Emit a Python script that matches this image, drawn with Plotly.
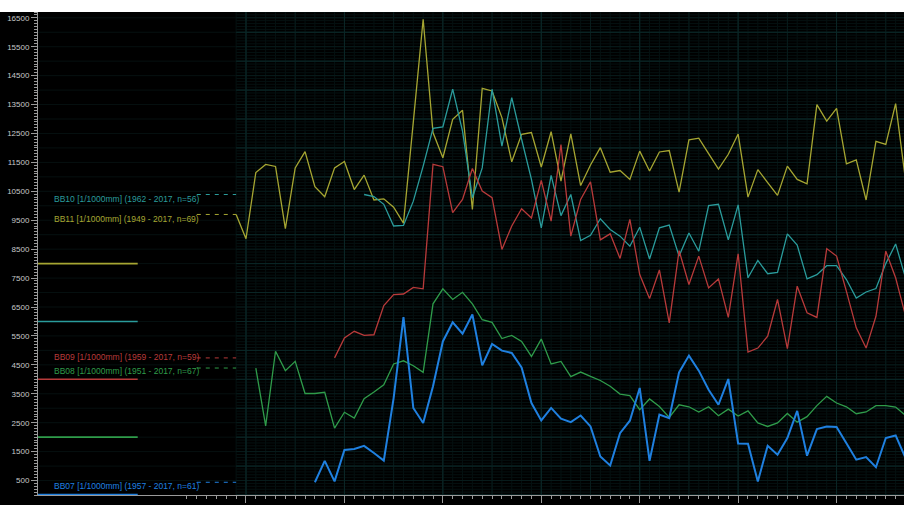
import plotly.graph_objects as go

# ---- ring-width series (1/1000 mm), one value per year ----
bb11_start = 1949
bb11 = [9700, 8860, 11150, 11430, 11360, 9210, 11310, 11870, 10660, 10310,
        11310, 11530, 10560, 11060, 10200, 10240, 9950, 9400, 12900, 16450,
        12530, 11660, 12990, 13300, 9870, 14060, 13970, 13050, 11520, 12470,
        12530, 11340, 12560, 10850, 12490, 10700, 11410, 12010, 11160, 11220,
        10910, 11890, 11200, 11860, 11910, 10470, 12280, 12340, 11800, 11270,
        11780, 12480, 10300, 11250, 10800, 10360, 11370, 10910, 10760, 13500,
        12930, 13370, 11450, 11590, 10200, 12230, 12120, 13530, 10900]

bb10_start = 1962
bb10 = [10390, 10320, 10050, 9300, 9320, 10160, 11370, 12680, 12730, 14030,
        12580, 10280, 11310, 14030, 12060, 13740, 12300, 10910, 9240, 11050,
        9660, 10390, 8800, 8980, 9550, 9180, 8950, 8600, 9260, 8160,
        9240, 9330, 8260, 9060, 8430, 10010, 10050, 8820, 10030, 7510,
        8110, 7650, 7700, 9030, 8640, 7470, 7620, 7930, 7930, 7450,
        6810, 7020, 7140, 8000, 8680, 7510]

bb09_start = 1959
bb09 = [4740, 5430, 5660, 5520, 5540, 6550, 6930, 6950, 7180, 7130,
        11430, 11350, 9760, 10220, 11290, 10510, 10280, 8490, 9300, 9900,
        9580, 10880, 9470, 12120, 8950, 10220, 10830, 8820, 9030, 8180,
        9530, 7620, 6790, 7780, 5950, 8450, 7280, 8260, 7160, 7470,
        6140, 8340, 4940, 5080, 5490, 6760, 5060, 7220, 6300, 6140,
        8520, 8260, 7040, 5780, 5080, 6180, 8430, 7510, 6200]

bb08_start = 1951
bb08 = [4390, 2390, 4970, 4300, 4620, 3510, 3510, 3550, 2310, 2860,
        2660, 3330, 3560, 3810, 4530, 4640, 4470, 4240, 6610, 7130,
        6760, 7010, 6610, 6060, 5970, 5410, 5520, 5310, 4790, 5390,
        4530, 4620, 4090, 4250, 4100, 3960, 3760, 3490, 3440, 2950,
        3320, 3060, 2680, 3120, 3050, 2870, 3050, 2740, 2970, 2730,
        2910, 2490, 2370, 2490, 2820, 2520, 2710, 3090, 3410, 3180,
        3050, 2810, 2870, 3090, 3090, 3040, 2750]

bb07_start = 1957
bb07 = [440, 1180, 470, 1560, 1590, 1700, 1450, 1190, 3350, 6150,
        3010, 2490, 3760, 5310, 5970, 5580, 6240, 4480, 5220, 4990,
        4910, 4410, 3180, 2580, 3010, 2640, 2520, 2750, 2370, 1330,
        1020, 2140, 2570, 3700, 1180, 2780, 2660, 4240, 4820, 4300,
        3640, 3120, 4010, 1780, 1770, 470, 1700, 1390, 1970, 2910,
        1360, 2280, 2370, 2350, 1790, 1220, 1310, 960, 1970, 2060,
        1280]

series_names = ["BB10", "BB11", "BB09", "BB08", "BB07"]
series_labels = ["BB10 [1/1000mm] (1962 - 2017, n=56)",
                 "BB11 [1/1000mm] (1949 - 2017, n=69)",
                 "BB09 [1/1000mm] (1959 - 2017, n=59)",
                 "BB08 [1/1000mm] (1951 - 2017, n=67)",
                 "BB07 [1/1000mm] (1957 - 2017, n=61)"]
baseline_levels = [6000, 8000, 4000, 2000, 0]

y_tick_vals = list(range(500, 17000, 1000))
x_tick_vals = list(range(1950, 2011, 10))

# ---- styling ----
COLORS = {"BB11": "#a6a632", "BB10": "#2a9c9c", "BB09": "#b83a3a",
          "BB08": "#2f9c4a", "BB07": "#1f80e0"}
WIDTHS = {"BB11": 1.3, "BB10": 1.3, "BB09": 1.3, "BB08": 1.3, "BB07": 2.0}
FONT = "Liberation Sans, Arial, sans-serif"

X_MIN, X_MAX = 1928.87, 2016.85
Y_MIN, Y_MAX = 0, 16700
W, H = 904, 505
ML, MR, MT, MB = 38, 0, 12, 10
PW, PH = W - ML - MR, H - MT - MB

series = {
    "BB11": (bb11_start, bb11),
    "BB10": (bb10_start, bb10),
    "BB09": (bb09_start, bb09),
    "BB08": (bb08_start, bb08),
    "BB07": (bb07_start, bb07),
}

fig = go.Figure()


def grid_trace(xs, ys, color, width=1):
    return go.Scatter(x=xs, y=ys, mode="lines", line=dict(color=color, width=width),
                      hoverinfo="skip", showlegend=False)


# very faint horizontal lines across the label panel
gx, gy = [], []
for v in range(500, 17000, 500):
    gx += [X_MIN, 1949, None]
    gy += [v, v, None]
fig.add_trace(grid_trace(gx, gy, "#061010"))

# chart grid: fine 100-unit / 1-year lines, stronger 500 / 5-year lines, strongest 1000 / 10-year
g_start, g_end = 1949, 2018
levels = [("#051111", 100, 1), ("#081c1c", 500, 5), ("#0b2727", 1000, 10)]
for color, ystep, xstep in levels:
    hx, hy = [], []
    for v in range(0, 16701, ystep):
        hx += [g_start, g_end, None]
        hy += [v, v, None]
    for yr in range(g_start, g_end + 1):
        if xstep == 1 or yr % xstep == 0:
            hx += [yr, yr, None]
            hy += [Y_MIN, Y_MAX, None]
    fig.add_trace(grid_trace(hx, hy, color))

# baselines in the label panel
for name, lvl in zip(series_names, baseline_levels):
    fig.add_trace(go.Scatter(x=[X_MIN, 1939.0], y=[lvl, lvl], mode="lines",
                             line=dict(color=COLORS[name], width=1.6 if name != "BB07" else 2.5),
                             hoverinfo="skip", showlegend=False))

# dashed leaders from each label to the series' first value
for name in series_names:
    start, vals = series[name]
    fig.add_trace(go.Scatter(x=[1945.0, 1949.0], y=[vals[0], vals[0]], mode="lines",
                             line=dict(color=COLORS[name], width=1, dash="4px,5px"),
                             hoverinfo="skip", showlegend=False))

# the series themselves
for name in ["BB11", "BB10", "BB09", "BB08", "BB07"]:
    start, vals = series[name]
    years = list(range(start, start + len(vals)))
    fig.add_trace(go.Scatter(x=years, y=vals, mode="lines", name=name,
                             line=dict(color=COLORS[name], width=WIDTHS[name]),
                             showlegend=False))

# series labels
label_y = {"BB10": 10234, "BB11": 9543, "BB09": 4761, "BB08": 4287, "BB07": 322}
for name, text in zip(series_names, series_labels):
    fig.add_annotation(x=1930.3, y=label_y[name], xref="x", yref="y", text=text,
                       showarrow=False, xanchor="left", yanchor="middle",
                       font=dict(family=FONT, size=8.5, color=COLORS[name]))

# white frame strip along the top edge
fig.add_shape(type="rect", xref="paper", yref="paper",
              x0=-ML / PW - 0.01, x1=1.01, y0=1.0, y1=1 + (MT + 2) / PH,
              fillcolor="white", line=dict(width=0), layer="above")

fig.update_layout(
    width=W, height=H,
    margin=dict(l=ML, r=MR, t=MT, b=MB, pad=0, autoexpand=False),
    paper_bgcolor="black", plot_bgcolor="black",
    showlegend=False,
    xaxis=dict(range=[X_MIN, X_MAX], showgrid=False, zeroline=False, automargin=False,
               showline=True, linecolor="#9a9a9a", linewidth=1,
               tickmode="array", tickvals=x_tick_vals,
               ticktext=[str(v) for v in x_tick_vals],
               ticks="outside", ticklen=7, tickcolor="#9a9a9a", tickwidth=1,
               ticklabelstandoff=4,
               tickfont=dict(family=FONT, size=8, color="#c8c8c8"),
               minor=dict(tickmode="array", tickvals=list(range(1944, 2018)),
                          ticks="outside", ticklen=3, tickcolor="#9a9a9a", showgrid=False)),
    yaxis=dict(range=[Y_MIN, Y_MAX], showgrid=False, zeroline=False, automargin=False,
               showline=True, linecolor="#9a9a9a", linewidth=1,
               tickmode="array", tickvals=y_tick_vals,
               ticktext=[str(v) for v in y_tick_vals],
               ticks="outside", ticklen=6, tickcolor="#9a9a9a", tickwidth=1,
               tickfont=dict(family=FONT, size=8, color="#c8c8c8"),
               minor=dict(dtick=100, tick0=0, ticks="outside", ticklen=3,
                          tickcolor="#9a9a9a", showgrid=False)),
)

fig.write_html("out.html")
